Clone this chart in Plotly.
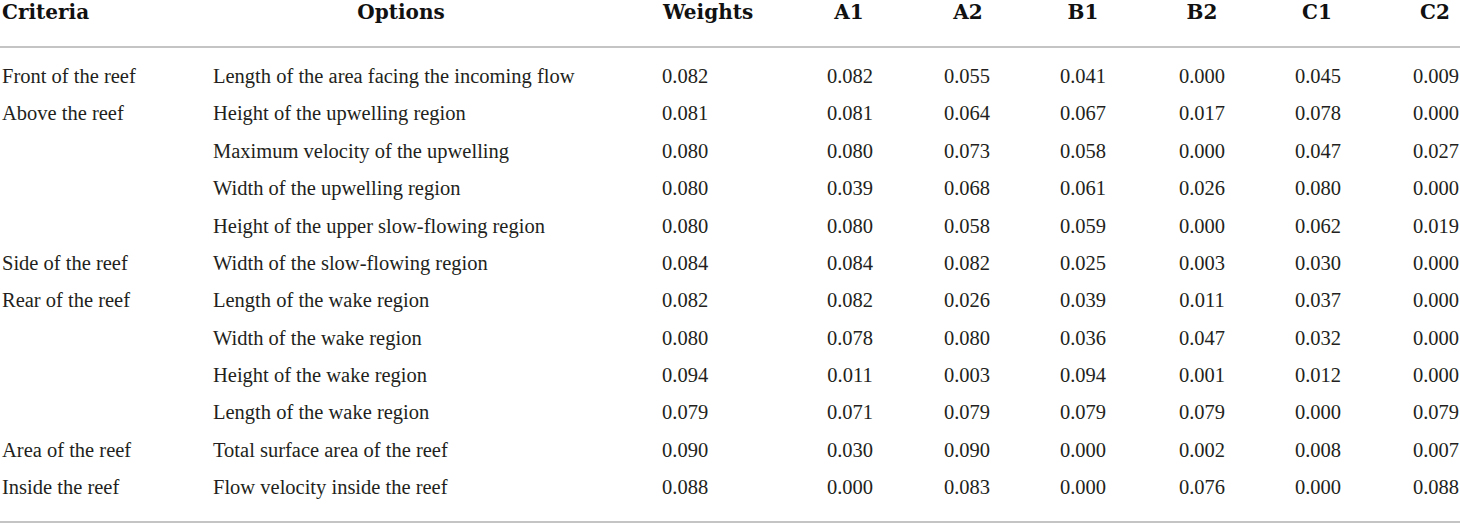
import plotly.graph_objects as go

# table contents
headers = ["Criteria", "Options", "Weights", "A1", "A2", "B1", "B2", "C1", "C2"]
criteria = [
    "Front of the reef", "Above the reef", "", "", "", "Side of the reef",
    "Rear of the reef", "", "", "", "Area of the reef", "Inside the reef",
]
options = [
    "Length of the area facing the incoming flow",
    "Height of the upwelling region",
    "Maximum velocity of the upwelling",
    "Width of the upwelling region",
    "Height of the upper slow-flowing region",
    "Width of the slow-flowing region",
    "Length of the wake region",
    "Width of the wake region",
    "Height of the wake region",
    "Length of the wake region",
    "Total surface area of the reef",
    "Flow velocity inside the reef",
]
weights = [0.082, 0.081, 0.080, 0.080, 0.080, 0.084, 0.082, 0.080, 0.094, 0.079, 0.090, 0.088]
a1 = [0.082, 0.081, 0.080, 0.039, 0.080, 0.084, 0.082, 0.078, 0.011, 0.071, 0.030, 0.000]
a2 = [0.055, 0.064, 0.073, 0.068, 0.058, 0.082, 0.026, 0.080, 0.003, 0.079, 0.090, 0.083]
b1 = [0.041, 0.067, 0.058, 0.061, 0.059, 0.025, 0.039, 0.036, 0.094, 0.079, 0.000, 0.000]
b2 = [0.000, 0.017, 0.000, 0.026, 0.000, 0.003, 0.011, 0.047, 0.001, 0.079, 0.002, 0.076]
c1 = [0.045, 0.078, 0.047, 0.080, 0.062, 0.030, 0.037, 0.032, 0.012, 0.000, 0.008, 0.000]
c2 = [0.009, 0.000, 0.027, 0.000, 0.019, 0.000, 0.000, 0.000, 0.000, 0.079, 0.007, 0.088]

# layout of the table, in pixels (axis units == page pixels)
W, H = 1460, 524
header_y = 13.5
row0_y = 78
row_step = 37.36
line_color = "#b0b0b0"
body_font = dict(family="Liberation Serif", size=20.5, color="#231f20")
head_font = dict(family="DejaVu Serif", size=20, color="#111111")

rows_y = [row0_y + i * row_step for i in range(len(options))]

# (column values, x anchor, alignment)
columns = [
    (criteria, 2, "left"),
    (options, 213, "left"),
    (["%.3f" % v for v in weights], 662, "left"),
    (["%.3f" % v for v in a1], 850, "center"),
    (["%.3f" % v for v in a2], 967, "center"),
    (["%.3f" % v for v in b1], 1083, "center"),
    (["%.3f" % v for v in b2], 1202, "center"),
    (["%.3f" % v for v in c1], 1318, "center"),
    (["%.3f" % v for v in c2], 1436, "center"),
]
header_pos = [(2, "left"), (401, "center"), (663, "left"), (849, "center"),
              (968, "center"), (1083, "center"), (1202, "center"),
              (1317, "center"), (1435, "center")]

fig = go.Figure()

for vals, x0, align in columns:
    fig.add_trace(go.Scatter(
        x=[x0] * len(vals), y=rows_y, text=vals, mode="text",
        textposition="middle right" if align == "left" else "middle center",
        textfont=body_font, showlegend=False, hoverinfo="skip",
        cliponaxis=False,
    ))

for name, (x0, align) in zip(headers, header_pos):
    fig.add_trace(go.Scatter(
        x=[x0], y=[header_y], text=["<b>%s</b>" % name], mode="text",
        textposition="middle right" if align == "left" else "middle center",
        textfont=head_font, showlegend=False, hoverinfo="skip",
        cliponaxis=False,
    ))

# horizontal rules
for yy in [47, 522]:
    fig.add_shape(type="line", x0=0, x1=W, y0=yy, y1=yy, xref="x", yref="y",
                  line=dict(color=line_color, width=1.5))

fig.update_xaxes(range=[0, W], visible=False, fixedrange=True)
fig.update_yaxes(range=[H, 0], visible=False, fixedrange=True)
fig.update_layout(
    width=W, height=H,
    margin=dict(l=0, r=0, t=0, b=0),
    plot_bgcolor="white", paper_bgcolor="white",
)

# drop the default 8px page margin so the figure fills the window
fig.write_html(
    "out.html",
    config={"displayModeBar": False, "staticPlot": True},
    post_script="document.body.style.margin='0';document.body.style.overflow='hidden';",
)
